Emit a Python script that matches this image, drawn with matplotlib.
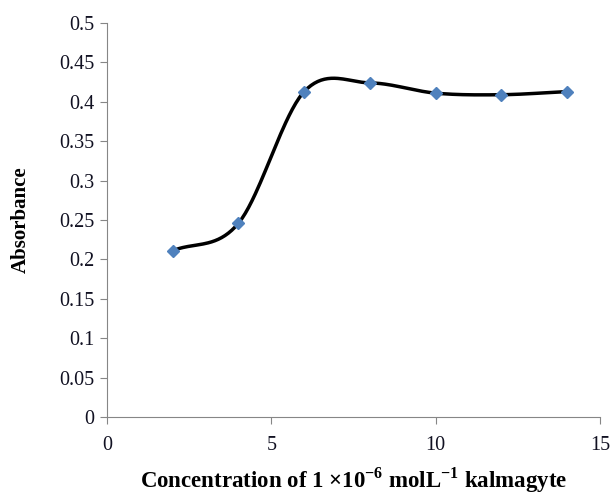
import numpy as np
import matplotlib
matplotlib.use("Agg")
import matplotlib.pyplot as plt

# Datos
conc = [2, 4, 6, 8, 10, 12, 14]
absorb = [0.211, 0.246, 0.413, 0.424, 0.411, 0.409, 0.413]

plt.rcParams['font.family'] = ['Liberation Serif', 'DejaVu Serif']
plt.rcParams['mathtext.fontset'] = 'custom'
plt.rcParams['mathtext.rm'] = 'Liberation Serif:bold'
plt.rcParams['mathtext.bf'] = 'Liberation Serif:bold'


def smooth_line(x, y, n=40):
    # curva suavizada tipo Excel (Catmull-Rom)
    x = np.asarray(x, float)
    y = np.asarray(y, float)
    px = np.concatenate([[2*x[0]-x[1]], x, [2*x[-1]-x[-2]]])
    py = np.concatenate([[2*y[0]-y[1]], y, [2*y[-1]-y[-2]]])
    xs, ys = [], []
    t = np.linspace(0, 1, n)
    for i in range(1, len(px) - 2):
        p0, p1, p2, p3 = px[i-1], px[i], px[i+1], px[i+2]
        q0, q1, q2, q3 = py[i-1], py[i], py[i+1], py[i+2]
        b1x, b1y = p1 + (p2 - p0)/6, q1 + (q2 - q0)/6
        b2x, b2y = p2 - (p3 - p1)/6, q2 - (q3 - q1)/6
        xs.append((1-t)**3*p1 + 3*(1-t)**2*t*b1x + 3*(1-t)*t**2*b2x + t**3*p2)
        ys.append((1-t)**3*q1 + 3*(1-t)**2*t*b1y + 3*(1-t)*t**2*b2y + t**3*q2)
    return np.concatenate(xs), np.concatenate(ys)


fig = plt.figure(figsize=(6.13, 4.95), dpi=100)
ax = fig.add_axes([0.1746, 0.1576, 0.8042, 0.7959])

sx, sy = smooth_line(conc, absorb)
ax.plot(sx, sy, color='black', lw=2.5, zorder=2)
ax.plot(conc, absorb, 'D', color='#4f81bd', ms=6, zorder=3)

ax.set_xlim(0, 15)
ax.set_ylim(0, 0.5)
ax.set_xticks([0, 5, 10, 15])
ax.set_yticks(np.arange(0, 0.51, 0.05))
ax.set_yticklabels(['0', '0.05', '0.1', '0.15', '0.2', '0.25', '0.3',
                    '0.35', '0.4', '0.45', '0.5'])

for s in ['top', 'right']:
    ax.spines[s].set_visible(False)
for s in ['left', 'bottom']:
    ax.spines[s].set_color('#868686')
ax.tick_params(colors='#868686', labelcolor='#111122', labelsize=14.5,
               length=5, direction='out')
ax.tick_params(axis='x', pad=9)
ax.tick_params(axis='y', pad=4)

ax.set_xlabel(r'Concentration of 1 $\times$10$^{-6}$ molL$^{-1}$ kalmagyte',
              fontsize=16.5, fontweight='bold')
ax.set_ylabel('Absorbance', fontsize=15, fontweight='bold')
ax.xaxis.set_label_coords(0.5, -0.124)
ax.yaxis.set_label_coords(-0.154, 0.5)

fig.savefig('out.png', dpi=100)
